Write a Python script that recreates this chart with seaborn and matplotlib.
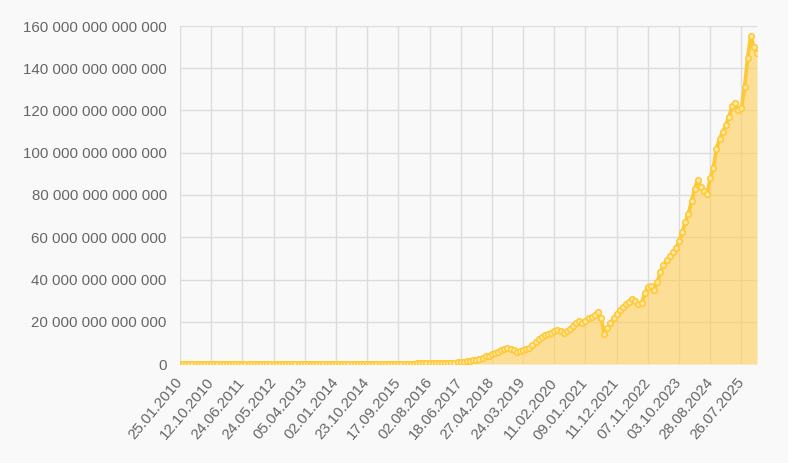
import numpy as np
import pandas as pd
import matplotlib
matplotlib.use("Agg")
import matplotlib.pyplot as plt
import matplotlib.transforms as mtrans
import seaborn as sns
from matplotlib.ticker import FuncFormatter, MultipleLocator

# values in trillions (1e12), one per sample along the category axis
early = [0.01, 0.01, 0.01, 0.01, 0.01, 0.01, 0.01, 0.01, 0.02, 0.02,
         0.02, 0.02, 0.02, 0.02, 0.03, 0.03, 0.03, 0.03, 0.03, 0.03,
         0.03, 0.04, 0.04, 0.04, 0.04, 0.04, 0.04, 0.04, 0.05, 0.05,
         0.05, 0.05, 0.05, 0.05, 0.05, 0.05, 0.06, 0.06, 0.06, 0.06,
         0.06, 0.06, 0.06, 0.07, 0.07, 0.07, 0.07, 0.07, 0.08, 0.08,
         0.08, 0.08, 0.09, 0.09, 0.09, 0.1, 0.1, 0.1, 0.11, 0.11,
         0.12, 0.12, 0.13, 0.13, 0.14, 0.14, 0.15, 0.15, 0.16, 0.17,
         0.18, 0.19, 0.2, 0.21, 0.22, 0.23, 0.24, 0.25, 0.27, 0.28]
late = [0.3, 0.3, 0.35, 0.4, 0.4, 0.45, 0.5, 0.55, 0.6, 0.8,
        1.0, 1.1, 1.3, 1.5, 1.7, 1.9, 2.3, 3.0, 3.6, 4.0,
        4.6, 5.1, 5.6, 6.4, 7.0, 7.5, 7.3, 6.4, 5.8, 6.2,
        6.5, 7.0, 7.8, 8.8, 10.2, 11.8, 12.8, 13.8, 14.2, 14.8,
        15.8, 16.2, 15.6, 14.8, 15.5, 16.6, 18.0, 19.5, 20.2, 19.6,
        20.4, 21.6, 22.4, 23.2, 24.8, 22.0, 14.2, 17.0, 19.4, 21.8,
        23.6, 25.6, 27.0, 28.2, 29.4, 30.8, 29.8, 28.2, 29.0, 33.5,
        36.4, 37.0, 35.2, 38.8, 43.4, 46.8, 49.2, 51.0, 52.8, 54.8,
        58.0, 62.6, 67.0, 71.2, 77.0, 83.0, 87.2, 84.0, 82.0, 80.6,
        88.0, 93.0, 102.0, 106.5, 110.0, 113.0, 117.0, 122.0, 123.6, 120.0,
        121.0, 131.0, 145.0, 155.5, 150.0, 147.0]

tick_labels = ["25.01.2010", "12.10.2010", "24.06.2011", "24.05.2012", "05.04.2013",
               "02.01.2014", "23.10.2014", "17.09.2015", "02.08.2016", "18.06.2017",
               "27.04.2018", "24.03.2019", "11.02.2020", "09.01.2021", "11.12.2021",
               "07.11.2022", "03.10.2023", "28.08.2024", "26.07.2025"]

values = np.array(early + late) * 1e12
df = pd.DataFrame({"idx": np.arange(len(values)), "value": values})

sns.set_style("whitegrid")
plt.rcParams['font.family'] = ['Liberation Sans', 'DejaVu Sans']

bg = "#f9f9f9"
line_col = "#ffc933"

fig = plt.figure(figsize=(7.88, 4.63), dpi=100, facecolor=bg)
ax = fig.add_axes([180 / 788, 99 / 463, 577 / 788, 338 / 463])
ax.set_facecolor(bg)

ax.fill_between(df["idx"], df["value"], 0, color=(255/255, 205/255, 86/255, 0.6), lw=0, zorder=2)
sns.lineplot(data=df, x="idx", y="value", ax=ax, color=line_col, lw=2.6,
             marker="o", markersize=4, markerfacecolor="#ffe7a6",
             markeredgecolor=line_col, markeredgewidth=1.1, zorder=3)

ax.set_xlim(0, len(values) - 1)
ax.set_ylim(0, 160e12)
ax.yaxis.set_major_locator(MultipleLocator(20e12))
ax.yaxis.set_major_formatter(FuncFormatter(lambda v, p: f"{int(round(v)):,}".replace(",", " ")))

tick_pos = np.arange(0, len(tick_labels) * 10, 10)
ax.set_xticks(tick_pos)
ax.set_xticklabels(tick_labels, rotation=50, ha="right", va="center", rotation_mode="anchor")
shift = mtrans.ScaledTranslation(10 / 100, -3 / 100, fig.dpi_scale_trans)
for lab in ax.get_xticklabels():
    lab.set_transform(lab.get_transform() + shift)

ax.grid(True, color="#dcdcdc", lw=1)
for s in ax.spines.values():
    s.set_visible(False)
ax.tick_params(axis="both", length=6.5, width=1, color="#dcdcdc", labelcolor="#666666",
               labelsize=10.8, pad=3)
ax.tick_params(axis="x", pad=5)
ax.set_xlabel("")
ax.set_ylabel("")

fig.savefig("out.png", dpi=100, facecolor=bg)
